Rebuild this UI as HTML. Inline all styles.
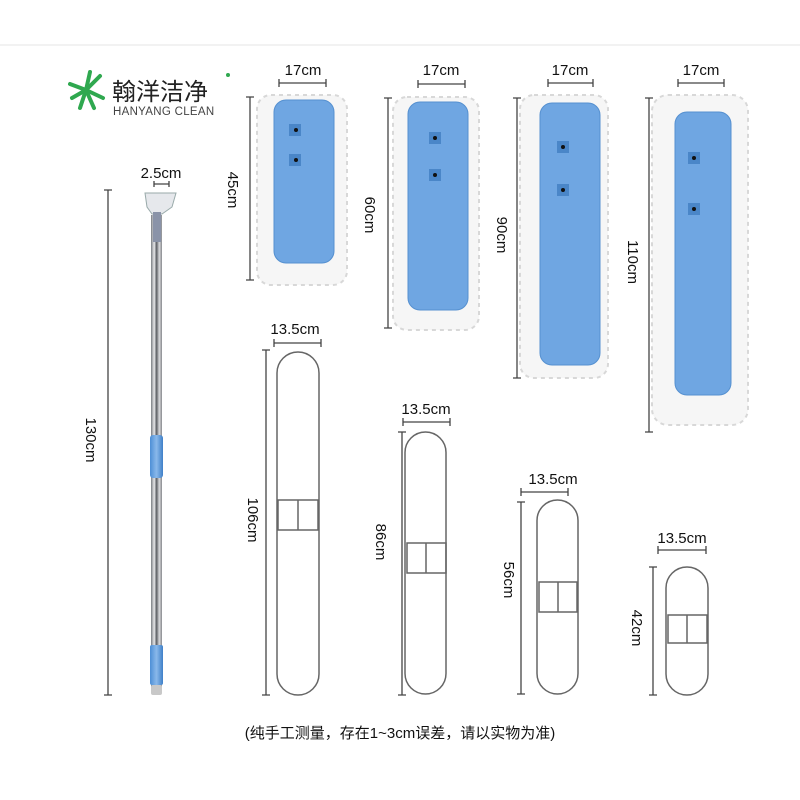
<!DOCTYPE html>
<html><head><meta charset="utf-8"><style>
html,body{margin:0;padding:0;background:#fff;}
svg{display:block;font-family:"Liberation Sans","Noto Sans CJK SC",sans-serif;}
</style></head><body>
<svg width="800" height="800" viewBox="0 0 800 800" xmlns="http://www.w3.org/2000/svg">
<defs>
<linearGradient id="steel" x1="0" x2="1" y1="0" y2="0">
<stop offset="0" stop-color="#7a7d82"/><stop offset="0.3" stop-color="#e8e8ea"/><stop offset="0.5" stop-color="#5a5d62"/><stop offset="0.75" stop-color="#d8d9dc"/><stop offset="1" stop-color="#888a8e"/>
</linearGradient>
<linearGradient id="grip" x1="0" x2="1"><stop offset="0" stop-color="#4d8fd6"/><stop offset="0.5" stop-color="#8ab8ea"/><stop offset="1" stop-color="#3f80c8"/></linearGradient>
</defs>
<rect x="0" y="44" width="800" height="2" fill="#f2f2f2"/>
<!-- logo -->
<g stroke="#2fa84f" stroke-width="4" stroke-linecap="round">
<line x1="86" y1="90" x2="70" y2="84"/><line x1="86" y1="90" x2="72" y2="98"/>
<line x1="86" y1="90" x2="80" y2="108"/><line x1="86" y1="90" x2="94" y2="108"/>
<line x1="86" y1="90" x2="103" y2="98"/><line x1="86" y1="90" x2="100" y2="76"/>
<line x1="86" y1="90" x2="90" y2="72"/>
</g>
<text x="112" y="100" font-size="24" fill="#222">翰洋洁净</text>
<circle cx="228" cy="75" r="2" fill="#2fa84f"/>
<text x="113" y="115" font-size="11.5" fill="#444" letter-spacing="0.3">HANYANG CLEAN</text>

<g fill="#111" font-size="15">
<text x="303" y="75" text-anchor="middle">17cm</text>
<text x="441" y="75" text-anchor="middle">17cm</text>
<text x="570" y="75" text-anchor="middle">17cm</text>
<text x="701" y="75" text-anchor="middle">17cm</text>
<text x="161" y="178" text-anchor="middle">2.5cm</text>
<text x="295" y="334" text-anchor="middle">13.5cm</text>
<text x="426" y="414" text-anchor="middle">13.5cm</text>
<text x="553" y="484" text-anchor="middle">13.5cm</text>
<text x="682" y="543" text-anchor="middle">13.5cm</text>
<text transform="translate(228,190) rotate(90)" text-anchor="middle">45cm</text>
<text transform="translate(365,215) rotate(90)" text-anchor="middle">60cm</text>
<text transform="translate(497,235) rotate(90)" text-anchor="middle">90cm</text>
<text transform="translate(628,262) rotate(90)" text-anchor="middle">110cm</text>
<text transform="translate(86,440) rotate(90)" text-anchor="middle">130cm</text>
<text transform="translate(248,520) rotate(90)" text-anchor="middle">106cm</text>
<text transform="translate(376,542) rotate(90)" text-anchor="middle">86cm</text>
<text transform="translate(504,580) rotate(90)" text-anchor="middle">56cm</text>
<text transform="translate(632,628) rotate(90)" text-anchor="middle">42cm</text>
<text x="400" y="738" text-anchor="middle" font-size="15">(纯手工测量，存在1~3cm误差，请以实物为准)</text>
</g>

<g stroke="#444" stroke-width="1.3" fill="none">
<path d="M279 83H326M279 79V87M326 79V87"/>
<path d="M418 84H465M418 80V88M465 80V88"/>
<path d="M548 83H593M548 79V87M593 79V87"/>
<path d="M678 83H724M678 79V87M724 79V87"/>
<path d="M154 184H169M154 181V187M169 181V187"/>
<path d="M274 343H321M274 339V347M321 339V347"/>
<path d="M403 422H450M403 418V426M450 418V426"/>
<path d="M521 492H568M521 488V496M568 488V496"/>
<path d="M658 550H706M658 546V554M706 546V554"/>
<path d="M250 97V280M246 97H254M246 280H254"/>
<path d="M388 98V328M384 98H392M384 328H392"/>
<path d="M517 98V378M513 98H521M513 378H521"/>
<path d="M649 98V432M645 98H653M645 432H653"/>
<path d="M108 190V695M104 190H112M104 695H112"/>
<path d="M266 350V695M262 350H270M262 695H270"/>
<path d="M402 432V695M398 432H406M398 695H406"/>
<path d="M521 502V694M517 502H525M517 694H525"/>
<path d="M653 567V695M649 567H657M649 695H657"/>
</g>

<g>
<rect x="257" y="95" width="90" height="190" rx="14" fill="#f6f6f6" stroke="#d8d8d8" stroke-width="2" stroke-dasharray="4 4"/>
<rect x="274" y="100" width="60" height="163" rx="12" fill="#6fa6e2" stroke="#5590d0"/>
<rect x="393" y="97" width="86" height="233" rx="14" fill="#f6f6f6" stroke="#d8d8d8" stroke-width="2" stroke-dasharray="4 4"/>
<rect x="408" y="102" width="60" height="208" rx="12" fill="#6fa6e2" stroke="#5590d0"/>
<rect x="520" y="95" width="88" height="283" rx="14" fill="#f6f6f6" stroke="#d8d8d8" stroke-width="2" stroke-dasharray="4 4"/>
<rect x="540" y="103" width="60" height="262" rx="12" fill="#6fa6e2" stroke="#5590d0"/>
<rect x="652" y="95" width="96" height="330" rx="16" fill="#f6f6f6" stroke="#d8d8d8" stroke-width="2" stroke-dasharray="4 4"/>
<rect x="675" y="112" width="56" height="283" rx="12" fill="#6fa6e2" stroke="#5590d0"/>
<g fill="#4a86c8">
<rect x="289" y="124" width="12" height="12"/><rect x="289" y="154" width="12" height="12"/>
<rect x="429" y="132" width="12" height="12"/><rect x="429" y="169" width="12" height="12"/>
<rect x="557" y="141" width="12" height="12"/><rect x="557" y="184" width="12" height="12"/>
<rect x="688" y="152" width="12" height="12"/><rect x="688" y="203" width="12" height="12"/>
</g>
<g fill="#111">
<circle cx="296" cy="130" r="2"/><circle cx="296" cy="160" r="2"/>
<circle cx="435" cy="138" r="2"/><circle cx="435" cy="175" r="2"/>
<circle cx="563" cy="147" r="2"/><circle cx="563" cy="190" r="2"/>
<circle cx="694" cy="158" r="2"/><circle cx="694" cy="209" r="2"/>
</g>
</g>

<g fill="none" stroke="#666" stroke-width="1.5">
<rect x="277" y="352" width="42" height="343" rx="21"/>
<rect x="278" y="500" width="40" height="30"/><line x1="298" y1="500" x2="298" y2="530"/>
<rect x="405" y="432" width="41" height="262" rx="20.5"/>
<rect x="407" y="543" width="39" height="30"/><line x1="426" y1="543" x2="426" y2="573"/>
<rect x="537" y="500" width="41" height="194" rx="20.5"/>
<rect x="539" y="582" width="38" height="30"/><line x1="558" y1="582" x2="558" y2="612"/>
<rect x="666" y="567" width="42" height="128" rx="21"/>
<rect x="668" y="615" width="39" height="28"/><line x1="687" y1="615" x2="687" y2="643"/>
</g>

<rect x="151" y="215" width="11" height="475" fill="url(#steel)"/>
<path d="M145 193 L176 193 L172 207 L162 214 L152 214 L147 207 Z" fill="#e6e8ec" stroke="#9aa" stroke-width="1"/>
<rect x="153" y="212" width="8" height="30" fill="#8a93a8"/>
<rect x="150" y="435" width="13" height="43" rx="3" fill="url(#grip)"/>
<rect x="150" y="645" width="13" height="40" rx="2" fill="url(#grip)"/>
<rect x="151" y="685" width="11" height="10" rx="2" fill="#c8c8c8"/>
</svg>
</body></html>
